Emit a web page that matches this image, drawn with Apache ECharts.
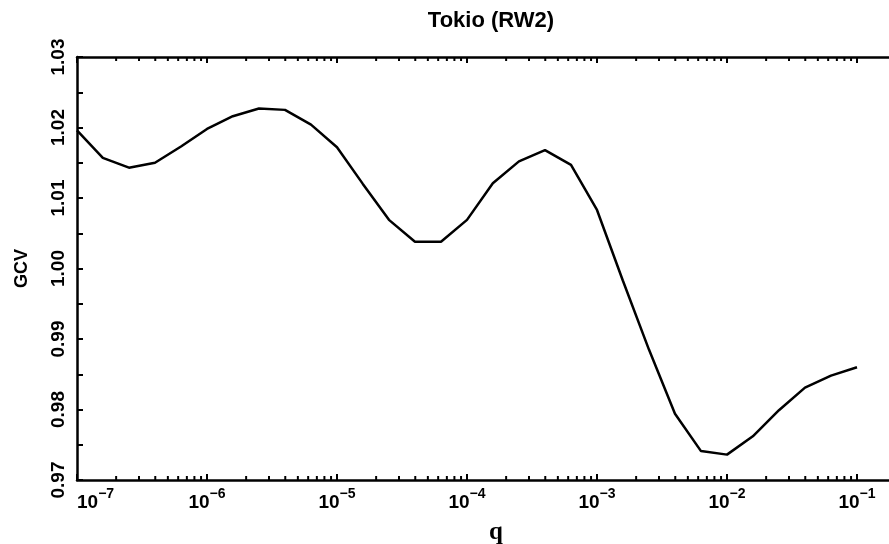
<!DOCTYPE html>
<html>
<head>
<meta charset="utf-8">
<script src="https://cdn.jsdelivr.net/npm/echarts@6/dist/echarts.min.js"></script>
<style>
html,body{margin:0;padding:0;background:#fff;}
#c{width:889px;height:544px;}
</style>
</head>
<body>
<div id="c"></div>
<script>
// ---- data ----
const qValues = [1.0e-7, 1.58e-7, 2.51e-7, 3.98e-7, 6.31e-7,
                 1.0e-6, 1.58e-6, 2.51e-6, 3.98e-6, 6.31e-6,
                 1.0e-5, 1.58e-5, 2.51e-5, 3.98e-5, 6.31e-5,
                 1.0e-4, 1.58e-4, 2.51e-4, 3.98e-4, 6.31e-4,
                 1.0e-3, 1.58e-3, 2.51e-3, 3.98e-3, 6.31e-3,
                 1.0e-2, 1.58e-2, 2.51e-2, 3.98e-2, 6.31e-2,
                 1.0e-1];
const gcvValues = [1.0196, 1.0157, 1.0143, 1.0150, 1.0173,
                   1.0198, 1.0216, 1.0227, 1.0225, 1.0204,
                   1.0172, 1.0120, 1.0069, 1.0038, 1.0038,
                   1.0069, 1.0121, 1.0152, 1.0168, 1.0147,
                   1.0083, 0.9983, 0.9885, 0.9794, 0.9741,
                   0.9736, 0.9762, 0.9799, 0.9831, 0.9848,
                   0.9860];
const xTickExponents = [-7, -6, -5, -4, -3, -2, -1];
const minorMultipliers = [2, 3, 4, 5, 6, 7, 8, 9];
const yTickLabels = ['0.97', '0.98', '0.99', '1.00', '1.01', '1.02', '1.03'];
const titleText = 'Tokio (RW2)';
const xName = 'q';
const yName = 'GCV';

const yMin = 0.97, yMax = 1.03;
const xMin = 1e-7, xMax = 1;

// minor tick positions (2..9 within each decade)
const minorTickQs = [];
xTickExponents.forEach(function (e) {
  minorMultipliers.forEach(function (k) { minorTickQs.push(k * Math.pow(10, e)); });
});

const sans = '"Liberation Sans", Arial, Helvetica, sans-serif';
const serif = '"Liberation Serif", "DejaVu Serif", serif';

const chart = echarts.init(document.getElementById('c'), null, {renderer: 'canvas'});

chart.setOption({
  backgroundColor: '#ffffff',
  animation: false,
  title: [
    {
      text: titleText,
      left: 486, top: 5, textAlign: 'center',
      textStyle: {fontFamily: sans, fontSize: 22, fontWeight: 'bold', color: '#000'}
    },
    {
      text: xName,
      left: 491, top: 515, textAlign: 'center',
      textStyle: {fontFamily: serif, fontSize: 25, fontWeight: 'bold', color: '#000'}
    }
  ],
  grid: {
    left: 77, top: 57, bottom: 64, right: -98,
    containLabel: false,
    outerBoundsMode: 'none'
  },
  xAxis: [
    {
      type: 'log', logBase: 10, min: xMin, max: xMax,
      position: 'bottom',
      axisLine: {show: true, lineStyle: {color: '#000', width: 2.5}},
      axisTick: {show: true, inside: true, length: 6, lineStyle: {color: '#000', width: 2}},
      minorTick: {show: false},
      splitLine: {show: false},
      axisLabel: {
        show: true, margin: 7, color: '#000',
        alignMinLabel: 'left',
        formatter: function (v) {
          const e = Math.round(Math.log10(v));
          if (xTickExponents.indexOf(e) < 0) return '';
          return '{b|10}{s|\u2212' + (-e) + '}';
        },
        rich: {
          b: {fontFamily: sans, fontSize: 19, fontWeight: 'bold', color: '#000', lineHeight: 25, verticalAlign: 'bottom'},
          s: {fontFamily: sans, fontSize: 14, fontWeight: 'bold', color: '#000', lineHeight: 25, verticalAlign: 'top'}
        }
      }
    },
    {
      type: 'log', logBase: 10, min: xMin, max: xMax,
      position: 'top',
      axisLine: {show: true, lineStyle: {color: '#000', width: 2.5}},
      axisTick: {show: true, inside: true, length: 6, lineStyle: {color: '#000', width: 2}},
      splitLine: {show: false},
      axisLabel: {show: false}
    }
  ],
  yAxis: {
    type: 'value', min: yMin, max: yMax, interval: 0.01,
    name: yName, nameLocation: 'middle', nameGap: 46, nameRotate: 90,
    nameTextStyle: {fontFamily: sans, fontSize: 18, fontWeight: 'bold', color: '#000'},
    axisLine: {show: true, lineStyle: {color: '#000', width: 2.5}},
    axisTick: {show: true, inside: true, length: 6, lineStyle: {color: '#000', width: 2}},
    minorTick: {show: true, splitNumber: 2, length: 6, lineStyle: {color: '#000', width: 2}},
    splitLine: {show: false},
    minorSplitLine: {show: false},
    axisLabel: {
      rotate: 90, margin: 9, color: '#000',
      fontFamily: sans, fontSize: 19, fontWeight: 'bold',
      formatter: function (v) {
        const i = Math.round((v - yMin) / 0.01);
        return yTickLabels[i] !== undefined ? yTickLabels[i] : '';
      }
    }
  },
  series: [
    {
      type: 'custom',
      xAxisIndex: 0, yAxisIndex: 0,
      clip: false,
      silent: true,
      data: minorTickQs.map(function (q) { return [q, yMin]; }),
      renderItem: function (params, api) {
        const q = api.value(0);
        const pb = api.coord([q, yMin]);
        const pt = api.coord([q, yMax]);
        return {
          type: 'group',
          children: [
            {type: 'line', shape: {x1: pb[0], y1: pb[1], x2: pb[0], y2: pb[1] - 4}, style: {stroke: '#000', lineWidth: 2}},
            {type: 'line', shape: {x1: pt[0], y1: pt[1], x2: pt[0], y2: pt[1] + 4}, style: {stroke: '#000', lineWidth: 2}}
          ]
        };
      }
    },
    {
      type: 'line',
      xAxisIndex: 0, yAxisIndex: 0,
      data: qValues.map(function (q, i) { return [q, gcvValues[i]]; }),
      showSymbol: false,
      symbol: 'none',
      smooth: false,
      lineStyle: {color: '#000', width: 2.5},
      z: 5
    }
  ]
});
</script>
</body>
</html>
